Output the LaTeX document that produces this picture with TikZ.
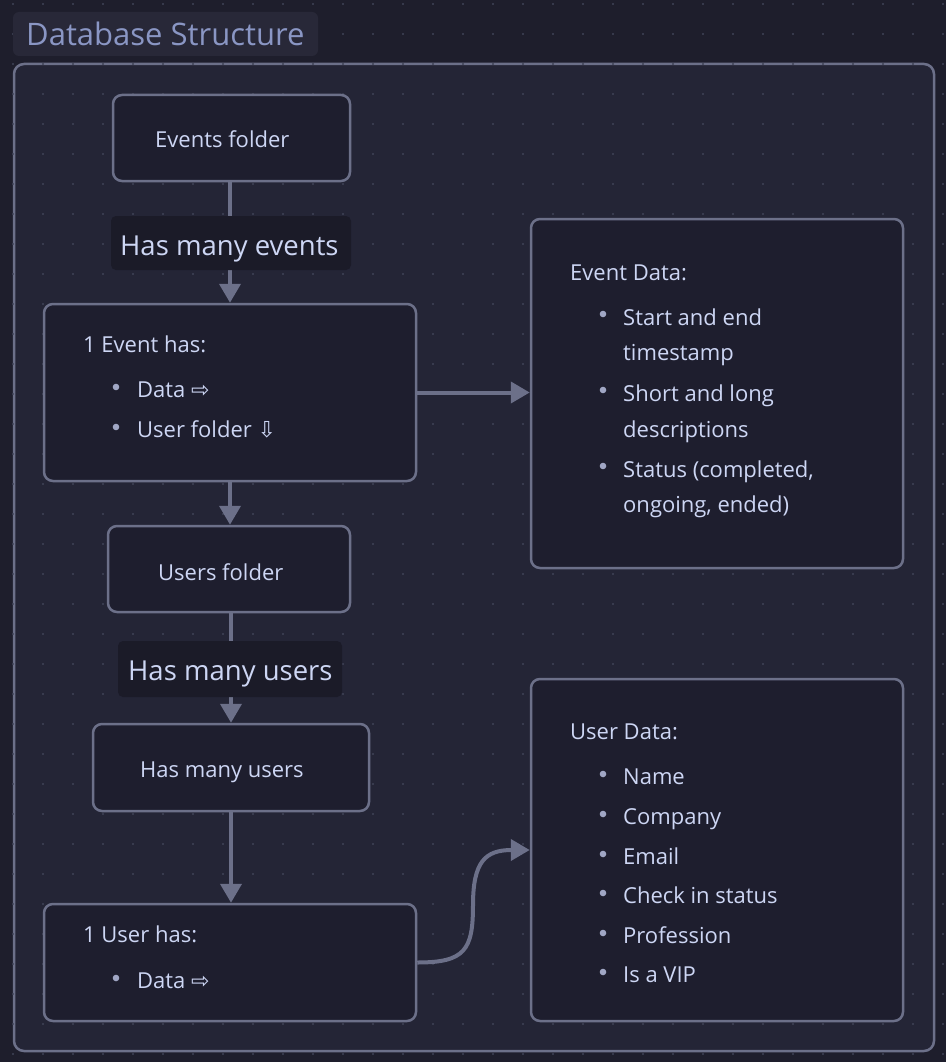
\documentclass[tikz,border=0pt]{standalone}
\usepackage{fontspec}
\setmainfont{Open Sans}
\newfontfamily\symf{DejaVu Sans}
\usetikzlibrary{arrows.meta}
\definecolor{bgout}{HTML}{1E1E2C}
\definecolor{bgin}{HTML}{242536}
\definecolor{nodefill}{HTML}{1E1E2E}
\definecolor{lblfill}{HTML}{1B1B28}
\definecolor{titlefill}{HTML}{282838}
\definecolor{bord}{HTML}{6C7089}
\definecolor{txtc}{HTML}{CDD6F4}
\definecolor{titletxt}{HTML}{8A96C4}
\definecolor{dotc}{HTML}{404357}
\definecolor{bulc}{HTML}{A0A6C4}
\begin{document}
\begin{tikzpicture}[x=1pt,y=-1pt,
  box/.style={draw=bord, line width=2.5pt, rounded corners=9pt, fill=nodefill, inner sep=0pt},
  lblbox/.style={fill=lblfill, rounded corners=5pt, inner sep=0pt},
  txt/.style={text=txtc, font=\fontsize{22}{26}\selectfont, anchor=base west, inner sep=0pt},
  lbltxt/.style={text=txtc, font=\fontsize{27.5}{32}\selectfont, anchor=base west, inner sep=0pt},
  conn/.style={draw=bord, line width=4pt, -{Triangle[length=19pt,width=21pt]}},
  bul/.style={fill=bulc}
]
\useasboundingbox (0,0) rectangle (946,1062);
\fill[bgout] (0,0) rectangle (946,1062);
% container
\node[draw=bord, line width=2.5pt, rounded corners=10pt, fill=bgin, inner sep=0pt,
  minimum width=920pt, minimum height=987pt] (cont) at (474,557.5) {};
% dot grid
\foreach \i in {0,...,31}{
  \foreach \j in {0,...,35}{
    \fill[dotc] ({13+30*\i},{4+30*\j}) circle (1.2pt);
  }
}
% title
\node[fill=titlefill, rounded corners=6pt, inner sep=0pt, minimum width=305pt, minimum height=44pt] (titlebox) at (165.5,34) {};
\node[text=titletxt, font=\fontsize{31}{36}\selectfont, anchor=base west, inner sep=0pt] (title) at (26,46) {Database Structure};

% boxes
\node[box, minimum width=237pt, minimum height=86pt] (evf) at (231.5,138) {};
\node[box, minimum width=372pt, minimum height=177pt] (ev1) at (230,392.5) {};
\node[box, minimum width=372pt, minimum height=349pt] (evd) at (717,393.5) {};
\node[box, minimum width=242pt, minimum height=86pt] (usf) at (229,569) {};
\node[box, minimum width=276pt, minimum height=87pt] (hmu) at (231,767.5) {};
\node[box, minimum width=372pt, minimum height=117pt] (us1) at (230,962.5) {};
\node[box, minimum width=372pt, minimum height=342pt] (usd) at (717,850) {};

% connectors
\draw[conn] (evf.south -| ev1.north) -- (ev1.north);
\draw[conn] (ev1.east) -- (ev1.east -| evd.west);
\draw[conn] (ev1.south) -- (ev1.south |- usf.north);
\draw[conn] (usf.south -| hmu.north) -- (hmu.north);
\draw[conn] (hmu.south) -- (hmu.south |- us1.north);
\draw[conn] (us1.east) .. controls (465,962.5) and (473,950) .. (473,905)
  .. controls (473,862) and (485,850) .. (usd.west);

% edge labels
\node[lblbox, minimum width=240pt, minimum height=54pt] (lbl1) at (231,243) {};
\node[lbltxt] (lbl1t) at (120,255) {Has many events};
\node[lblbox, minimum width=224pt, minimum height=56pt] (lbl2) at (230,669) {};
\node[lbltxt] (lbl2t) at (128,680) {Has many users};

% texts
\node[txt] (t1) at (155,147) {Events folder};

\node[txt] (t2) at (83,352) {1 Event has:};
\fill[bul] (116,387) circle (3.3pt);
\node[txt] (t3) at (137,397) {Data {\symf ⇨}};
\fill[bul] (116,427) circle (3.3pt);
\node[txt] (t4) at (137,437) {User folder {\symf ⇩}};

\node[txt] (t5) at (570,280) {Event Data:};
\fill[bul] (603,314) circle (3.3pt);
\node[txt] (t6) at (623,325) {Start and end};
\node[txt] (t7) at (623,360) {timestamp};
\fill[bul] (603,390) circle (3.3pt);
\node[txt] (t8) at (623,401) {Short and long};
\node[txt] (t9) at (623,437) {descriptions};
\fill[bul] (603,466) circle (3.3pt);
\node[txt] (t10) at (623,477) {Status (completed,};
\node[txt] (t11) at (623,512) {ongoing, ended)};

\node[txt] (t12) at (158,580) {Users folder};
\node[txt] (t13) at (140,777) {Has many users};

\node[txt] (t14) at (83,942) {1 User has:};
\fill[bul] (116,978) circle (3.3pt);
\node[txt] (t15) at (137,988) {Data {\symf ⇨}};

\node[txt] (t16) at (570,739) {User Data:};
\foreach \y/\s [count=\k] in {784/Name,824/Company,864/Email,903/Check in status,943/Profession,982/Is a VIP}{
  \fill[bul] (603,\y-10) circle (3.3pt);
  \node[txt] (ud\k) at (623,\y) {\s};
}
\end{tikzpicture}
\end{document}
